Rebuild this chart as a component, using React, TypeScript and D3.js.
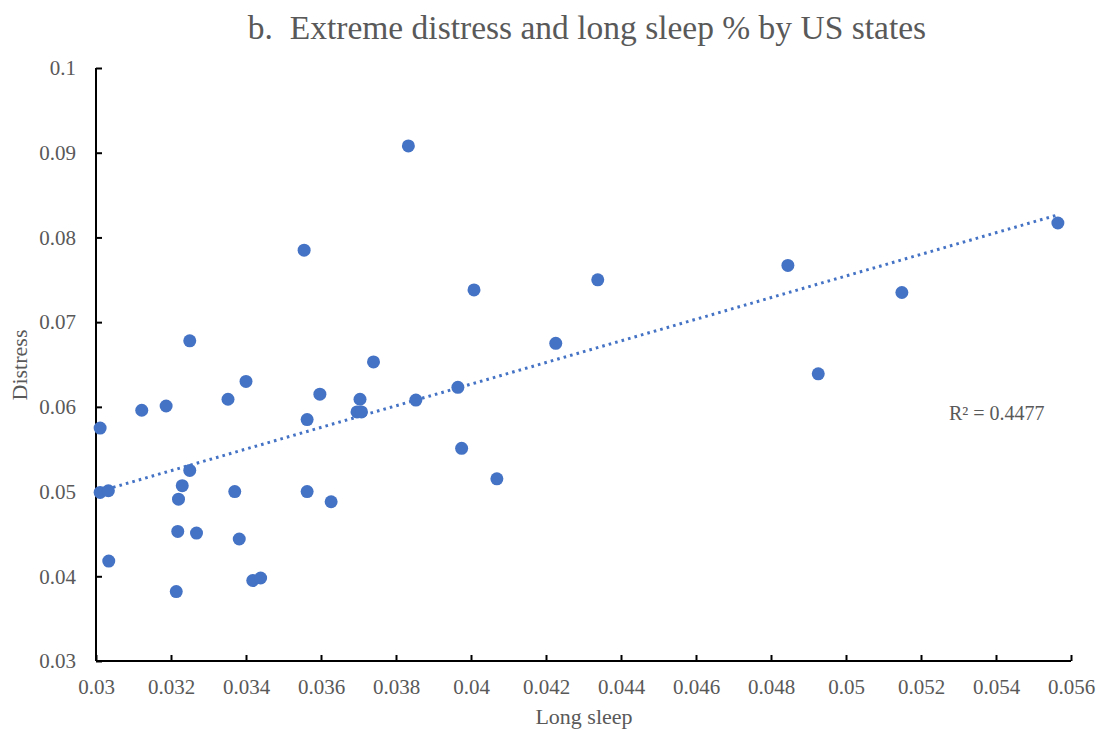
import React, { useEffect, useRef } from "react";
import * as d3 from "d3";

// long sleep share, distress share, one pair per state
const longSleep = [
  0.03011, 0.03011, 0.03033, 0.03034, 0.03122, 0.03187, 0.03214, 0.03218, 0.0322, 0.0323,
  0.0325, 0.0325, 0.03268, 0.03352, 0.034, 0.0337, 0.03382, 0.03418, 0.03439, 0.03555,
  0.03563, 0.03563, 0.03597, 0.03627, 0.0374, 0.03704, 0.03696, 0.03708, 0.03833, 0.03853,
  0.03965, 0.03975, 0.04008, 0.04069, 0.04226, 0.04338, 0.04845, 0.04926, 0.05149, 0.05565,
];
const distress = [
  0.0575, 0.0499, 0.0501, 0.0418, 0.0596, 0.0601, 0.0382, 0.0453, 0.0491, 0.0507,
  0.0525, 0.0678, 0.0451, 0.0609, 0.063, 0.05, 0.0444, 0.0395, 0.0398, 0.0785,
  0.0585, 0.05, 0.0615, 0.0488, 0.0653, 0.0609, 0.0594, 0.0594, 0.0908, 0.0608,
  0.0623, 0.0551, 0.0738, 0.0515, 0.0675, 0.075, 0.0767, 0.0639, 0.0735, 0.0817,
];
const xTicks = [0.03, 0.032, 0.034, 0.036, 0.038, 0.04, 0.042, 0.044, 0.046, 0.048, 0.05, 0.052, 0.054, 0.056];
const yTicks = [0.03, 0.04, 0.05, 0.06, 0.07, 0.08, 0.09, 0.1];
const rSquared = "0.4477";

const W = 1097;
const H = 731;
const FONT = "'Liberation Serif', 'Times New Roman', serif";
const BLUE = "#4472C4";
const GREY = "#595959";

function ScatterChart() {
  const el = useRef<SVGSVGElement | null>(null);

  useEffect(() => {
    const svg = d3.select(el.current);
    svg.selectAll("*").remove();

    const x = d3.scaleLinear().domain([0.03, 0.056]).range([96, 1071]);
    const y = d3.scaleLinear().domain([0.03, 0.1]).range([661, 68]);

    const pts = longSleep.map((v, i) => ({ x: v, y: distress[i] }));

    // title
    svg.append("text")
      .attr("x", 587).attr("y", 39)
      .attr("text-anchor", "middle")
      .attr("font-family", FONT).attr("font-size", 33.5)
      .attr("fill", GREY)
      .style("white-space", "pre")
      .text("b.  Extreme distress and long sleep % by US states");

    // axes
    const xAxis = svg.append("g").attr("transform", `translate(0,${y(0.03)})`)
      .call(d3.axisBottom(x).tickValues(xTicks).tickSize(-6).tickPadding(18).tickFormat((d) => String(+(+d).toFixed(3))));
    const yAxis = svg.append("g").attr("transform", `translate(${x(0.03)},0)`)
      .call(d3.axisLeft(y).tickValues(yTicks).tickSize(-6).tickPadding(20).tickFormat((d) => String(+(+d).toFixed(2))));

    [xAxis, yAxis].forEach((g) => {
      g.select(".domain").attr("stroke", "#000").attr("stroke-width", 2);
      g.selectAll(".tick line").attr("stroke", "#000").attr("stroke-width", 2);
      g.selectAll(".tick text")
        .attr("font-family", FONT).attr("font-size", 21)
        .attr("fill", GREY);
    });
    xAxis.select(".domain").attr("d", `M${x(0.03)},0H${x(0.056)}`);
    yAxis.select(".domain").attr("d", `M0,${y(0.03)}V${y(0.1)}`);

    // axis titles
    svg.append("text")
      .attr("x", 584).attr("y", 724)
      .attr("text-anchor", "middle")
      .attr("font-family", FONT).attr("font-size", 22)
      .attr("fill", GREY)
      .text("Long sleep");
    svg.append("text")
      .attr("transform", "translate(27,365) rotate(-90)")
      .attr("text-anchor", "middle")
      .attr("font-family", FONT).attr("font-size", 22)
      .attr("fill", GREY)
      .text("Distress");

    // linear trend fitted to the points
    const mx = d3.mean(pts, (d) => d.x) as number;
    const my = d3.mean(pts, (d) => d.y) as number;
    const slope = d3.sum(pts, (d) => (d.x - mx) * (d.y - my)) / d3.sum(pts, (d) => (d.x - mx) ** 2);
    const icpt = my - slope * mx;
    const [x0, x1] = d3.extent(longSleep) as [number, number];
    const line = d3.line<number>().x((d) => x(d)).y((d) => y(icpt + slope * d));
    svg.append("path")
      .datum([x0, x1])
      .attr("d", line)
      .attr("fill", "none")
      .attr("stroke", BLUE)
      .attr("stroke-width", 3)
      .attr("stroke-dasharray", "2.6 4.1");

    svg.append("g")
      .selectAll("circle")
      .data(pts)
      .join("circle")
      .attr("cx", (d) => x(d.x))
      .attr("cy", (d) => y(d.y))
      .attr("r", 6.5)
      .attr("fill", BLUE);

    svg.append("text")
      .attr("x", 949).attr("y", 420)
      .attr("font-family", FONT).attr("font-size", 20)
      .attr("fill", GREY)
      .text(`R² = ${rSquared}`);
  }, []);

  return <svg ref={el} width={W} height={H} style={{ display: "block" }} />;
}

export default function App() {
  return (
    <div style={{ position: "fixed", left: 0, top: 0, width: W, height: H, background: "#fff", overflow: "hidden" }}>
      <ScatterChart />
    </div>
  );
}
